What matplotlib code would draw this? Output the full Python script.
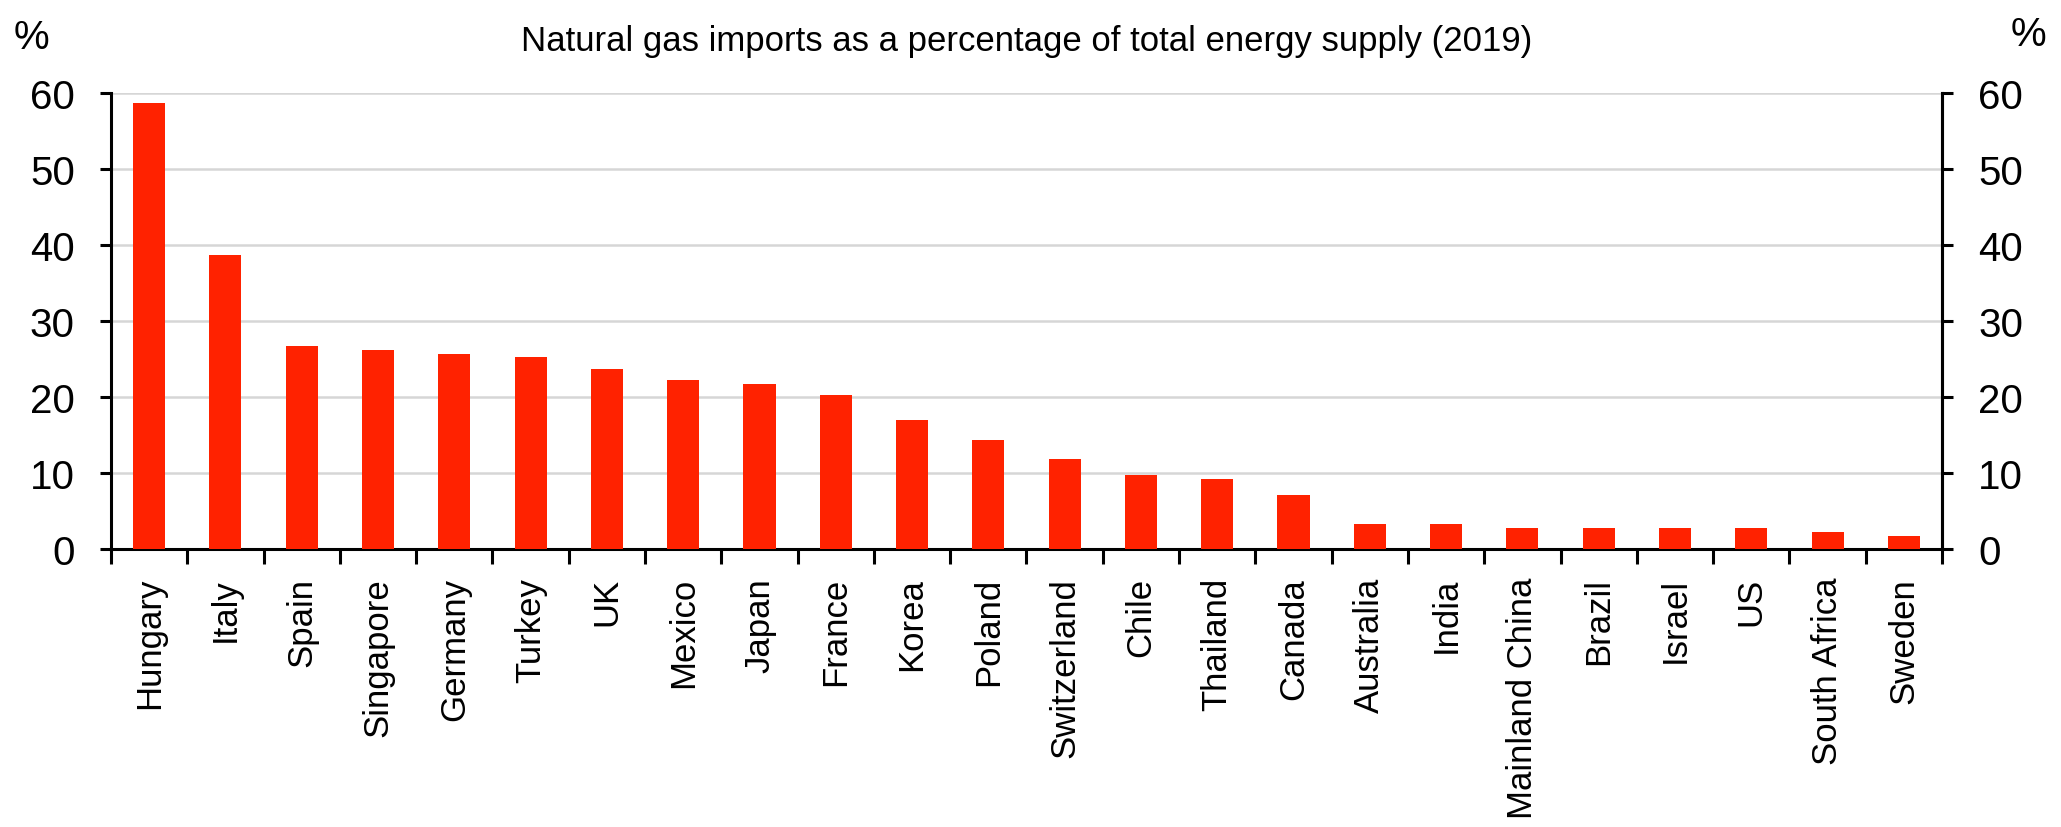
import matplotlib
matplotlib.use("Agg")
import matplotlib.pyplot as plt
from matplotlib import font_manager as fm
import numpy as np

# Data: natural gas imports as % of total energy supply, 2019
countries = ["Hungary", "Italy", "Spain", "Singapore", "Germany", "Turkey", "UK",
             "Mexico", "Japan", "France", "Korea", "Poland", "Switzerland", "Chile",
             "Thailand", "Canada", "Australia", "India", "Mainland China", "Brazil",
             "Israel", "US", "South Africa", "Sweden"]
shares = [58.7, 38.7, 26.7, 26.2, 25.7, 25.2, 23.7,
          22.2, 21.7, 20.2, 17.0, 14.4, 11.8, 9.7,
          9.2, 7.1, 3.3, 3.3, 2.8, 2.8,
          2.8, 2.8, 2.2, 1.7]
y_ticks = [0, 10, 20, 30, 40, 50, 60]
title = "Natural gas imports as a percentage of total energy supply (2019)"

# Pick a condensed sans face if one is installed
installed = {f.name for f in fm.fontManager.ttflist}
family = "Liberation Sans"
num_size, cat_size, title_size = 29, 25, 25
for cand in ["Liberation Sans Narrow", "Arial Narrow", "Nimbus Sans Narrow"]:
    if cand in installed:
        family = cand
        num_size, cat_size, title_size = 32, 30, 30
        break
plt.rcParams["font.family"] = [family, "DejaVu Sans"]

W, H, DPI = 2061, 828, 100
fig = plt.figure(figsize=(W / DPI, H / DPI), dpi=DPI)
left, right, top, bottom = 111, 1942, 94, 550
ax = fig.add_axes([left / W, 1 - bottom / H, (right - left) / W, (bottom - top) / H])

x = np.arange(len(countries))
ax.bar(x, shares, width=0.42, color="#ff2200", zorder=3)

ax.set_xlim(-0.5, len(countries) - 0.5)
ax.set_ylim(0, 60)
ax.set_yticks(y_ticks)
ax.yaxis.grid(True, color="#d6d6d6", linewidth=1.8, zorder=0)
ax.set_axisbelow(True)

# Category separators as major ticks, names on minor ticks
ax.set_xticks(np.arange(-0.5, len(countries), 1.0))
ax.set_xticklabels([])
ax.set_xticks(x, minor=True)
ax.set_xticklabels(countries, minor=True, rotation=90, fontsize=cat_size, va="top", ha="center")
ax.tick_params(axis="x", which="major", direction="out", length=11, width=2.2, color="black")
ax.tick_params(axis="x", which="minor", length=0, pad=20)
ax.tick_params(axis="y", direction="out", length=8, width=2.2, labelsize=num_size, pad=18)

ax.spines["top"].set_visible(False)
for s in ["left", "right", "bottom"]:
    ax.spines[s].set_linewidth(2.2)
    ax.spines[s].set_color("black")

ax2 = ax.twinx()
ax2.set_ylim(ax.get_ylim())
ax2.set_yticks(y_ticks)
ax2.tick_params(axis="y", direction="out", length=8, width=2.2, labelsize=num_size, pad=18)
for s in ["top", "left", "bottom"]:
    ax2.spines[s].set_visible(False)
ax2.spines["right"].set_linewidth(2.2)

fig.text(31 / W, 1 - 38 / H, "%", ha="center", va="center", fontsize=num_size)
fig.text(2028 / W, 1 - 35 / H, "%", ha="center", va="center", fontsize=num_size)
fig.text((left + right) / 2 / W, 1 - 42 / H, title, ha="center", va="center", fontsize=title_size)

fig.savefig("out.png", dpi=DPI, facecolor="white")
